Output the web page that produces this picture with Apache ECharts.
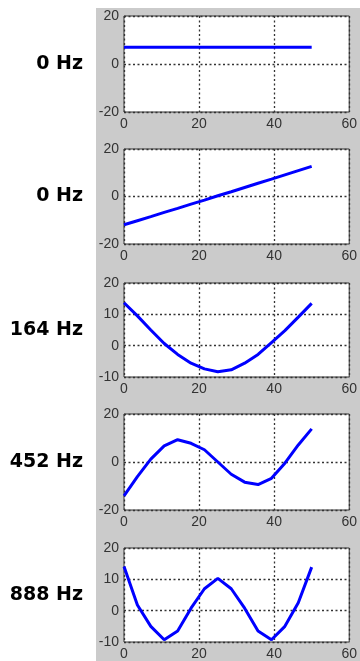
<!DOCTYPE html>
<html>
<head>
<meta charset="utf-8">
<script src="https://cdn.jsdelivr.net/npm/echarts@6/dist/echarts.min.js"></script>
<style>
html,body{margin:0;padding:0;background:#fff;}
#c{width:360px;height:661px;}
</style>
</head>
<body>
<div id="c"></div>
<script>
// sample positions (x)
var xs = [0, 3.57, 7.14, 10.71, 14.29, 17.86, 21.43, 25, 28.57, 32.14, 35.71, 39.29, 42.86, 46.43, 50];
// panel labels
var labels = ['0 Hz', '0 Hz', '164 Hz', '452 Hz', '888 Hz'];
// series values
var s1 = [7, 7, 7, 7, 7, 7, 7, 7, 7, 7, 7, 7, 7, 7, 7];
var s2 = [-11.9, -10.2, -8.5, -6.7, -5.0, -3.2, -1.5, 0.3, 2.0, 3.8, 5.6, 7.3, 9.1, 10.9, 12.7];
var s3 = [13.7, 9.5, 5.0, 0.7, -2.8, -5.6, -7.4, -8.3, -7.7, -5.6, -2.8, 1.0, 4.8, 9.1, 13.5];
var s4 = [-14.1, -6.1, 1.2, 6.7, 9.3, 7.8, 5.1, 0, -5.1, -8.4, -9.4, -6.8, -0.5, 7.1, 13.8];
var s5 = [14.1, 1.8, -5.0, -9.3, -6.5, 0.8, 7.0, 10.3, 7.0, 0.8, -6.5, -9.3, -5.0, 2.5, 13.9];
var seriesVals = [s1, s2, s3, s4, s5];
// axis ranges / ticks
var xMin = 0, xMax = 60, xStep = 20;
var yMins = [-20, -20, -10, -20, -10];
var yMaxs = [20, 20, 20, 20, 20];
var ySteps = [20, 20, 10, 20, 10];

var tops = [16, 149, 283, 414, 548];
var heights = [96, 95, 94, 96, 95];
var gridLeft = 124, gridWidth = 229;
var dark = '#333333';

var chart = echarts.init(document.getElementById('c'), null, {renderer: 'canvas'});
var grids = [], xAxes = [], yAxes = [], series = [], graphics = [];

graphics.push({
  type: 'rect', z: -10, silent: true,
  shape: {x: 96, y: 8, width: 264, height: 653},
  style: {fill: '#cbcbcb'}
});

for (var i = 0; i < 5; i++) {
  grids.push({
    left: gridLeft, top: tops[i], width: gridWidth, height: heights[i],
    show: true, backgroundColor: '#ffffff', borderColor: dark, borderWidth: 1
  });
  xAxes.push({
    type: 'value', gridIndex: i, min: xMin, max: xMax, interval: xStep,
    axisLine: {show: false}, axisTick: {show: false},
    axisLabel: {color: '#333333', fontFamily: 'Liberation Sans, Arial', fontSize: 14, margin: 5},
    splitLine: {show: true, lineStyle: {color: dark, width: 1.3, type: [2, 2.5]}}
  });
  yAxes.push({
    type: 'value', gridIndex: i, min: yMins[i], max: yMaxs[i], interval: ySteps[i],
    axisLine: {show: false}, axisTick: {show: false},
    axisLabel: {color: '#333333', fontFamily: 'Liberation Sans, Arial', fontSize: 14, margin: 5},
    splitLine: {show: true, lineStyle: {color: dark, width: 1.3, type: [2, 2.5]}}
  });
  var d = [];
  for (var k = 0; k < xs.length; k++) d.push([xs[k], seriesVals[i][k]]);
  series.push({
    type: 'line', xAxisIndex: i, yAxisIndex: i, data: d,
    showSymbol: false, symbol: 'none', smooth: false,
    lineStyle: {color: '#0000ff', width: 3}, animation: false
  });
  graphics.push({
    type: 'text', silent: true,
    x: 83, y: tops[i] + heights[i] / 2,
    style: {
      text: labels[i], fill: '#000', align: 'right', verticalAlign: 'middle',
      font: 'bold 19px "DejaVu Sans"'
    }
  });
}

chart.setOption({
  animation: false,
  grid: grids, xAxis: xAxes, yAxis: yAxes, series: series,
  graphic: graphics
});
</script>
</body>
</html>
